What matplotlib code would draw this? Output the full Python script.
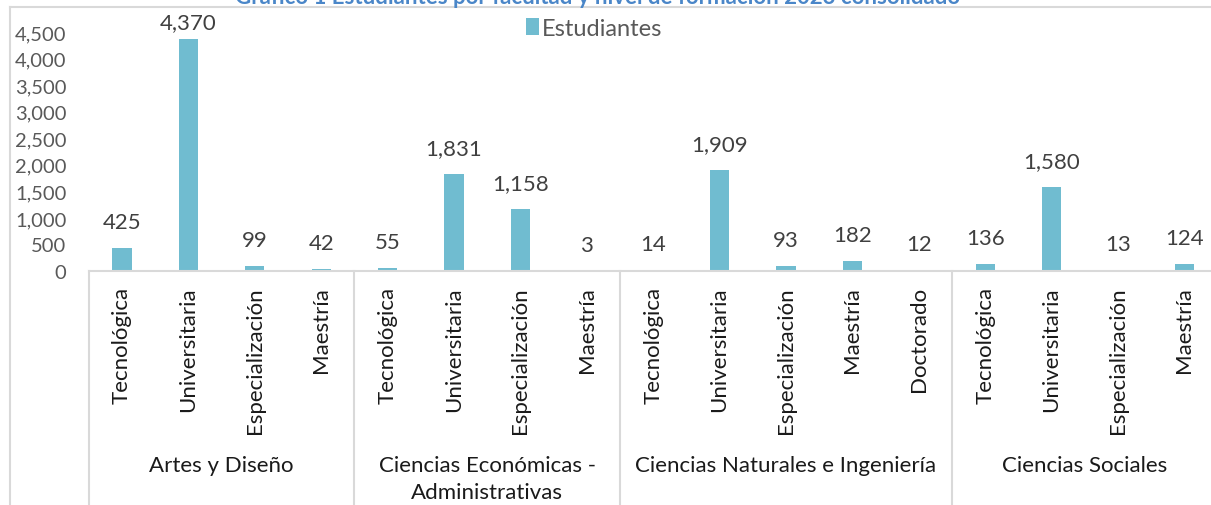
import numpy as np
import matplotlib.pyplot as plt
from matplotlib.lines import Line2D
from matplotlib.transforms import blended_transform_factory

plt.rcParams['font.family'] = ['Lato', 'DejaVu Sans']

groups = ['Artes y Diseño', 'Ciencias Económicas -\nAdministrativas',
          'Ciencias Naturales e Ingeniería', 'Ciencias Sociales']
levels = [
    ['Tecnológica', 'Universitaria', 'Especialización', 'Maestría'],
    ['Tecnológica', 'Universitaria', 'Especialización', 'Maestría'],
    ['Tecnológica', 'Universitaria', 'Especialización', 'Maestría', 'Doctorado'],
    ['Tecnológica', 'Universitaria', 'Especialización', 'Maestría'],
]
students = [
    [425, 4370, 99, 42],
    [55, 1831, 1158, 3],
    [14, 1909, 93, 182, 12],
    [136, 1580, 13, 124],
]

labels = [l for g in levels for l in g]
values = [v for g in students for v in g]
x = np.arange(len(values))

W, H = 1211, 506
fig = plt.figure(figsize=(W / 100, H / 100), dpi=100)
left, right = 88.8, 88.8 + 17 * 66.4
top, bottom = 33, 272
ax = fig.add_axes([left / W, 1 - bottom / H, (right - left) / W, (bottom - top) / H])

bar_color = '#70BCD0'
ax.bar(x, values, width=0.29, color=bar_color, label='Estudiantes')
ax.set_xlim(-0.5, len(values) - 0.5)
ax.set_ylim(0, 4500)
ax.set_yticks(np.arange(0, 4501, 500))
ax.set_yticklabels([f'{v:,}' for v in range(0, 4501, 500)], fontsize=14.5, color='#595959')
ax.tick_params(axis='y', length=0, pad=16)
ax.set_xticks([])
for s in ['top', 'right', 'left']:
    ax.spines[s].set_visible(False)
ax.spines['bottom'].set_color('#D9D9D9')
ax.spines['bottom'].set_linewidth(1.5)

# data labels ~26px above the bar, kept inside the chart area like Excel does
per_px = 4500 / (bottom - top)
label_max = 4500 + (top - 23) * per_px
for xi, v in zip(x, values):
    ax.text(xi, min(v + 26 * per_px, label_max), f'{v:,}', ha='center', va='center',
            fontsize=16, color='#404040', clip_on=False)

trans = blended_transform_factory(ax.transData, ax.transAxes)
ylab = -(287 - bottom) / (bottom - top)
for xi, l in zip(x, labels):
    ax.text(xi, ylab, l, rotation=90, ha='center', va='top', fontsize=16,
            color='#1a1a1a', transform=trans)

ybot = -(H - bottom) / (bottom - top)
start = 0
for g, lv in zip(groups, levels):
    n = len(lv)
    ax.add_line(Line2D([start - 0.5, start - 0.5], [0, ybot], transform=trans,
                       color='#D9D9D9', lw=1.5, clip_on=False))
    yg = -(456 - bottom) / (bottom - top)
    ax.text(start + (n - 1) / 2, yg, g, ha='center', va='top', fontsize=16,
            color='#1a1a1a', transform=trans, linespacing=1.45)
    start += n
ax.add_line(Line2D([start - 0.5, start - 0.5], [0, ybot], transform=trans,
                   color='#D9D9D9', lw=1.5, clip_on=False))

ax.legend(loc='center left', bbox_to_anchor=(505 / W, 1 - 29 / H),
          bbox_transform=fig.transFigure, frameon=False, fontsize=17,
          handlelength=0.55, handleheight=0.7, handletextpad=0.12,
          labelcolor='#595959')

# outer chart frame
fig.add_artist(Line2D([10 / W, 10 / W], [0, 1 - 8 / H], color='#D9D9D9', lw=1.5))
fig.add_artist(Line2D([10 / W, 1], [1 - 8 / H, 1 - 8 / H], color='#D9D9D9', lw=1.5))

fig.text(598 / W, 1 - 4 / H, 'Gráfico 1 Estudiantes por facultad y nivel de formación 2023 consolidado',
         ha='center', va='baseline', fontsize=16, fontweight='bold', color='#4A86C8')

fig.savefig('out.png', dpi=100)
